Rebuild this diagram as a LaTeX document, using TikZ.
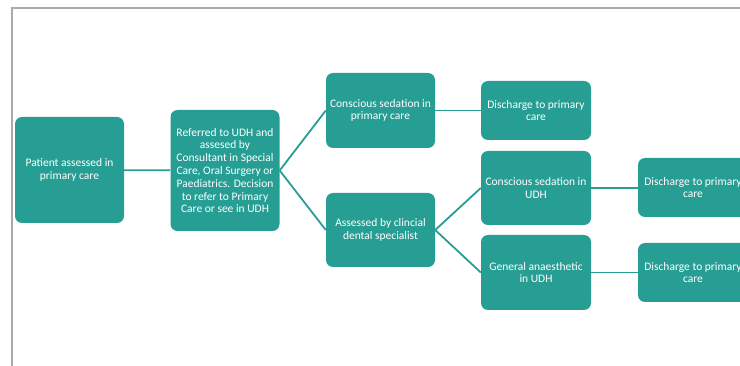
\documentclass[tikz,border=0pt]{standalone}
\usepackage{fontspec}
\setmainfont{Carlito}
\definecolor{boxteal}{RGB}{39,158,148}
\definecolor{framegray}{RGB}{170,170,170}
\begin{document}
\begin{tikzpicture}[x=1pt, y=-1pt,
	stepbox/.style={shape=rectangle, rounded corners=7pt, fill=boxteal, text=white,
		align=center, inner sep=0pt, minimum width=109pt,
		font=\fontsize{11.5}{12.8}\selectfont},
	link/.style={draw=boxteal, line width=1.8pt}]
	\useasboundingbox (0,0) rectangle (740,366);
	\clip (0,0) rectangle (740,366);
	% Page frame
	\draw[framegray, line width=1.3pt] (12,366) -- (12,8) -- (740,8);
	% First column
	\node[stepbox, minimum height=106pt] (N0) at (69.5,170) {Patient assessed in\\primary care};
	\node[stepbox, minimum height=121pt] (N1) at (225,170.5) {Referred to UDH and\\assesed by\\Consultant in Special\\Care, Oral Surgery or\\Paediatrics. Decision\\to refer to Primary\\Care or see in UDH};
	% Primary care branch
	\node[stepbox, minimum height=75pt] (N2) at (380.5,110.5) {Conscious sedation in\\primary care};
	\node[stepbox, minimum height=59pt, minimum width=110pt] (N3) at (536,110.5) {Discharge to primary\\care};
	% UDH branch
	\node[stepbox, minimum height=74pt] (N4) at (380.5,230) {Assessed by clincial\\dental specialist};
	\node[stepbox, minimum height=74pt, minimum width=110pt] (N5) at (536,188) {Conscious sedation in\\UDH};
	\node[stepbox, minimum height=75pt, minimum width=110pt] (N6) at (536,272.5) {General anaesthetic\\in UDH};
	\node[stepbox, minimum height=59pt, minimum width=110pt] (N7) at (693,187.5) {Discharge to primary\\care};
	\node[stepbox, minimum height=59pt, minimum width=110pt] (N8) at (693,272.5) {Discharge to primary\\care};
	% Connections
	\draw[link] (N0) -- (N1);
	\draw[link] (N1.east) -- (N2.west);
	\draw[link] (N1.east) -- (N4.west);
	\draw[link] (N2) -- (N3);
	\draw[link] (N4.east) -- (N5.west);
	\draw[link] (N4.east) -- (N6.west);
	\draw[link] (N5.east) -- (N7.west |- N5.east);
	\draw[link] (N6.east) -- (N8.west |- N6.east);
\end{tikzpicture}
\end{document}
